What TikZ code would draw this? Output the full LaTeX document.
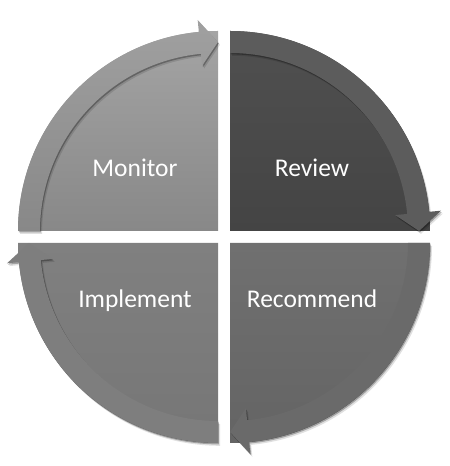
\documentclass[tikz,border=0pt]{standalone}
\usepackage{fontspec}
\setmainfont{Carlito}
\definecolor{tltop}{RGB}{164,164,164}
\definecolor{tlbot}{RGB}{136,136,136}
\definecolor{tlbandtop}{RGB}{160,160,160}
\definecolor{tlbandbot}{RGB}{136,136,136}
\definecolor{trtop}{RGB}{80,80,80}
\definecolor{trbot}{RGB}{68,68,68}
\definecolor{trband}{RGB}{92,92,92}
\definecolor{brtop}{RGB}{112,112,112}
\definecolor{brbot}{RGB}{100,100,100}
\definecolor{brband}{RGB}{106,106,106}
\definecolor{bltop}{RGB}{128,128,128}
\definecolor{blbot}{RGB}{118,118,118}
\definecolor{blband}{RGB}{126,126,126}
\begin{document}
\begin{tikzpicture}[x=1bp,y=1bp,
  lbl/.style={text=white,font=\fontsize{25.5bp}{30bp}\selectfont,anchor=base,inner sep=0pt},
  shadowa/.style={fill=black,fill opacity=0.28},
  shadowb/.style={fill=black,fill opacity=0.12}]
\useasboundingbox (0,0) rectangle (450,466);
\newcommand{\quadshape}[1]{(0,0) -- (#1:200) arc[start angle=#1,end angle=#1-90,radius=200] -- cycle}
\newcommand{\arrowshape}[1]{(#1:178) -- (#1:200) arc[start angle=#1,end angle=#1-84.5,radius=200]
  -- (#1-84.5:212) -- (#1-90:189) -- (#1-84.5:166) -- (#1-84.5:178)
  arc[start angle=#1-84.5,end angle=#1,radius=178] -- cycle}
\newcommand{\arrowshadow}[1]{%
  \begin{scope}[shift={(2,-2.8)}]\fill[shadowb] \arrowshape{#1};\end{scope}%
  \begin{scope}[shift={(0.9,-1.4)}]\fill[shadowa] \arrowshape{#1};\end{scope}}
% Top-left: Monitor
\begin{scope}[shift={(218,235)}]
  \shade[top color=tltop, bottom color=tlbot] \quadshape{180};
  \arrowshadow{180}
  \shade[top color=tlbandtop, bottom color=tlbandbot] \arrowshape{180};
\end{scope}
% Top-right: Review
\begin{scope}[shift={(230,235)}]
  \shade[top color=trtop, bottom color=trbot] \quadshape{90};
  \arrowshadow{90}
  \fill[trband] \arrowshape{90};
\end{scope}
% Bottom-right: Recommend
\begin{scope}[shift={(230,223)}]
  \shade[top color=brtop, bottom color=brbot] \quadshape{0};
  \arrowshadow{0}
  \fill[brband] \arrowshape{0};
\end{scope}
% Bottom-left: Implement
\begin{scope}[shift={(218,223)}]
  \shade[top color=bltop, bottom color=blbot] \quadshape{-90};
  \arrowshadow{-90}
  \fill[blband] \arrowshape{-90};
\end{scope}
\node[lbl] (monitor) at (135,289) {Monitor};
\node[lbl] (review) at (312,289) {Review};
\node[lbl] (implement) at (135,158) {Implement};
\node[lbl] (recommend) at (312,158) {Recommend};
\end{tikzpicture}
\end{document}
